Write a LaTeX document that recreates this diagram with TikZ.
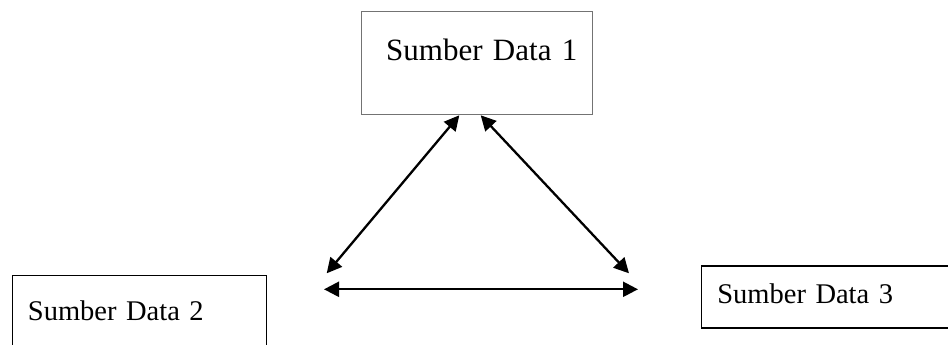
\documentclass[tikz,border=0pt]{standalone}
\usepackage{fontspec}
\setmainfont{Liberation Serif}
\usetikzlibrary{arrows.meta,calc}

\begin{document}
\begin{tikzpicture}[x=1pt, y=-1pt,
  box/.style={draw, line width=1.3pt, inner ysep=0pt, anchor=north west, font=\fontsize{28.5}{34}\selectfont},
  arr/.style={{Triangle[length=15pt,width=15pt]}-{Triangle[length=15pt,width=15pt]}, line width=2.3pt}]
\clip (0,0) rectangle (948,345);
\node[box, draw=black!55, align=right, inner xsep=15pt, text width=201pt, text height=49pt, text depth=54pt,
  font=\fontsize{31}{36}\selectfont] (s1) at (360.7,11) {Sumber Data 1};
\node[box, align=left, inner xsep=15.6pt, text width=222.8pt, text height=45pt, text depth=40pt] (s2) at (11.7,275) {Sumber Data 2};
\node[box, align=left, inner xsep=16pt, text width=227pt, text height=37.7pt, text depth=24.3pt] (s3) at (700.7,265.3) {Sumber Data 3};
% arrow ends
\coordinate (t2) at ($(s1.south west)+(98.6,0)$);
\coordinate (t3) at ($(s1.south west)+(120,0)$);
\coordinate (b2) at (326.7,273.3);
\coordinate (b3) at (629,273.3);
\coordinate (h2) at (324,289.3);
\coordinate (h3) at (638,289.3);
\foreach \x/\y in {t2/b2,t3/b3,h2/h3} \draw[arr] (\x) -- (\y);
\end{tikzpicture}
\end{document}
